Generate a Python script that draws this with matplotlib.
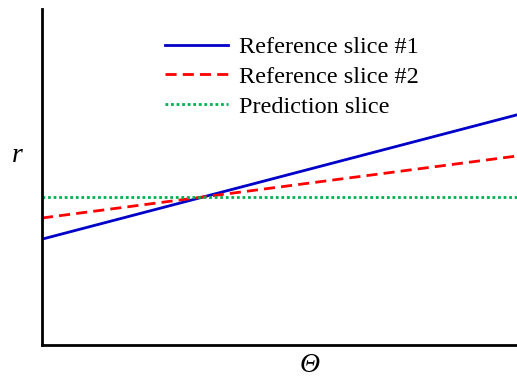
import matplotlib
matplotlib.use("Agg")
import matplotlib.pyplot as plt

theta = [0.0, 1.0]
ref1 = [0.315, 0.685]
ref2 = [0.378, 0.5625]
pred = [0.439, 0.439]
labels = ["Reference slice #1", "Reference slice #2", "Prediction slice"]

plt.rcParams['font.family'] = ['Liberation Serif', 'DejaVu Serif']

fig = plt.figure(figsize=(5.17, 3.79), dpi=100)
ax = fig.add_axes([42/517, 1-345/379, 1-42/517, 336/379])
ax.plot(theta, ref1, color='#0000c8', lw=2, ls='-', label=labels[0])
ax.plot(theta, ref2, color='#ff0000', lw=2, ls=(0, (4, 2.2)), label=labels[1])
ax.plot(theta, pred, color='#00b050', lw=2, ls=(0, (1, 1.0)), label=labels[2])
ax.set_xlim(0, 1)
ax.set_ylim(0, 1)
ax.set_xticks([])
ax.set_yticks([])
for s in ['top', 'right']:
    ax.spines[s].set_visible(False)
for s in ['left', 'bottom']:
    ax.spines[s].set_linewidth(2)
fig.text(17/517, 1-155/379, 'r', fontsize=20, style='italic', ha='center', va='center')
fig.text(310/517, 1-366/379, 'Θ', fontsize=20, style='italic', ha='center', va='center')
leg = ax.legend(loc='upper left', bbox_to_anchor=((165-42)/475, 1-(36-9)/336), frameon=False,
          fontsize=17.5, handlelength=2.6, handletextpad=0.45, labelspacing=0.32,
          borderpad=0, borderaxespad=0)
fig.savefig('out.png', dpi=100)
